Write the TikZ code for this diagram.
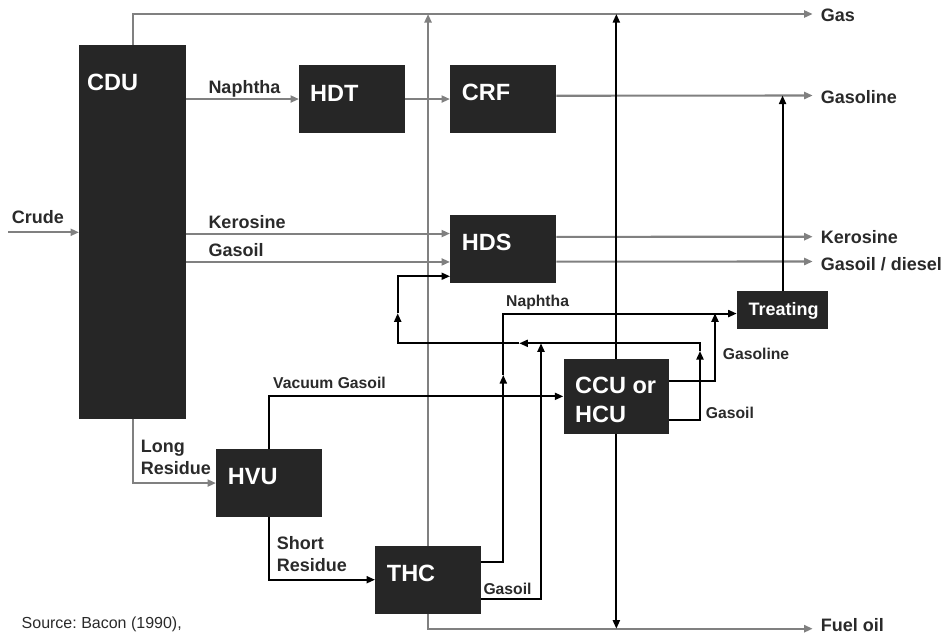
\documentclass[tikz,border=0pt]{standalone}
\usepackage{fontspec}
\setmainfont{Liberation Sans}
\usetikzlibrary{arrows.meta,calc}
\frenchspacing

\definecolor{boxfill}{HTML}{262626}
\definecolor{flowgray}{HTML}{808080}
\definecolor{labelink}{HTML}{2A2A2A}

\tikzset{
  unit/.style={fill=boxfill, draw=none, inner sep=0pt, anchor=north west},
  unitname/.style={text=white, inner sep=0pt, anchor=base west,
    font=\fontsize{23.5}{28}\selectfont\bfseries},
  treatname/.style={text=white, inner sep=0pt, anchor=base west,
    font=\fontsize{18}{21.6}\selectfont\bfseries},
  biglbl/.style={text=labelink, inner sep=0pt, anchor=base west,
    font=\fontsize{18}{21.6}\selectfont\bfseries},
  smalllbl/.style={text=labelink, inner sep=0pt, anchor=base west,
    font=\fontsize{15.7}{19}\selectfont\bfseries},
  srclbl/.style={text=labelink, inner sep=0pt, anchor=base east,
    font=\fontsize{16}{19}\selectfont},
  tip/.style={-{Triangle[length=8.5pt,width=7pt]}},
  gflow/.style={draw=flowgray, line width=2.1pt, tip},
  bflow/.style={draw=black, line width=1.9pt, tip},
}

\begin{document}
\begin{tikzpicture}[x=1pt, y=-1pt]
\useasboundingbox (0,0) rectangle (950,635);

% ---- process units ----
\node[unit, minimum width=107pt,  minimum height=373.3pt] (cdu)      at (79,45)      {};
\node[unit, minimum width=106pt,  minimum height=67.7pt]  (hdt)      at (299,65)     {};
\node[unit, minimum width=106pt,  minimum height=67.7pt]  (crf)      at (450,65)     {};
\node[unit, minimum width=106pt,  minimum height=67.7pt]  (hds)      at (450,215)    {};
\node[unit, minimum width=91.3pt, minimum height=37.7pt]  (treating) at (736.7,291)  {};
\node[unit, minimum width=105.7pt,minimum height=74.3pt]  (ccu)      at (563.3,359)  {};
\node[unit, minimum width=105.7pt,minimum height=67.7pt]  (hvu)      at (216,449)    {};
\node[unit, minimum width=105.7pt,minimum height=67.6pt]  (thc)      at (375,545.7)  {};

\node[unitname] (tcdu) at (87,90)       {CDU};
\node[unitname] (thdt) at (310,101)     {HDT};
\node[unitname] (tcrf) at (461.7,100.7) {CRF};
\node[unitname] (thds) at (461.7,250.7) {HDS};
\node[unitname] (tccu1) at (575,393.3)  {CCU or};
\node[unitname] (tccu2) at (575,422.3)  {HCU};
\node[unitname] (thvu) at (227.7,484)   {HVU};
\node[unitname] (tthc) at (386.7,581.7) {THC};
\node[treatname] (ttreat) at (748.3,315) {Treating};

% ---- free ends of product lines ----
\coordinate (crudeS) at (8,232.3);
\coordinate (gasT)   at (812.7,14);
\coordinate (gsT)    at (812.7,95.5);
\coordinate (keT)    at (812.7,236.7);
\coordinate (gdT)    at (812.7,261.5);
\coordinate (foT)    at (812.7,628.7);

% ---- straight-run (grey) streams ----
\draw[gflow] (crudeS) -- (crudeS -| cdu.west);
\draw[gflow] (cdu.north) |- (gasT);
\draw[gflow] (cdu.east |- hdt.west) -- (hdt.west);
\draw[gflow] (hdt.east) -- (crf.west);
\draw[gflow] ([yshift=3.3pt]crf.east) -- (gsT);
\draw[gflow] ([yshift=15.5pt]hds.west -| cdu.east) -- ([yshift=15.5pt]hds.west);
\draw[gflow] ([yshift=-12.9pt]hds.west -| cdu.east) -- ([yshift=-12.9pt]hds.west);
\draw[gflow] ([yshift=12.2pt]hds.east) -- (keT);
\draw[gflow] ([yshift=-12.6pt]hds.east) -- (gdT);
\draw[gflow] (cdu.south) |- (hvu.west);
\draw[gflow] (thc.north) -- (thc.north |- gasT);
\draw[gflow] (thc.south) |- (foT);

% ---- conversion (black) streams ----
\draw[bflow] (hvu.north) |- (ccu.west);
\draw[bflow] (hvu.south) |- (thc.west);
\draw[bflow] (ccu.north) -- (ccu.north |- gasT);
\draw[bflow] (ccu.south) -- (ccu.south |- foT);
\draw[bflow] (treating.north) -- (treating.north |- gsT);

% naphtha from THC to treating
\coordinate (nMid) at (503.3,375);
\draw[bflow] ([yshift=17.8pt]thc.east) -| (nMid);
\draw[bflow] (nMid) |- ([yshift=-3.5pt]treating.west);

% gasoil from THC joins the recycle header
\coordinate (tgJoin) at (541,343.3);
\draw[bflow] ([yshift=-19.5pt]thc.east) -| (tgJoin);

% gasoline from CCU/HCU joins the treating feed
\coordinate (cgJoin) at (715,313.3);
\draw[bflow] ([yshift=15.2pt]ccu.east) -| (cgJoin);

% gasoil from CCU/HCU back to HDS
\coordinate (lp1) at (700,351);
\coordinate (lp2) at (519.3,343.3);
\coordinate (lp3) at (397.7,313.3);
\draw[bflow] ([yshift=-23.2pt]ccu.east) -| (lp1);
\draw[bflow] (lp1) |- (lp2);
\draw[bflow] (lp2) -| (lp3);
\draw[bflow] (lp3) |- ([yshift=-27.2pt]hds.west);

% ---- stream labels ----
\node[biglbl] (lcrude) at (11.7,223)    {Crude};
\node[biglbl] (lnap)   at (208.3,93.3)  {Naphtha};
\node[biglbl] (lker)   at (208.3,228.7) {Kerosine};
\node[biglbl] (lgo)    at (208.3,256)   {Gasoil};
\node[biglbl] (llong1) at (140.7,452.7) {Long};
\node[biglbl] (llong2) at (140.7,474.3) {Residue};
\node[biglbl] (lshort1) at (276.7,549.3) {Short};
\node[biglbl] (lshort2) at (276.7,571.7) {Residue};
\node[biglbl] (ogas)   at (820.7,21.7)  {Gas};
\node[biglbl] (ogsl)   at (820.7,103.3) {Gasoline};
\node[biglbl] (oker)   at (820.7,243.3) {Kerosine};
\node[biglbl] (ogd)    at (820.7,270.7) {Gasoil / diesel};
\node[biglbl] (ofo)    at (820.7,631.7) {Fuel oil};

\node[smalllbl] (lvgo)  at (273,388)     {Vacuum Gasoil};
\node[smalllbl] (lnap2) at (506,306)     {Naphtha};
\node[smalllbl] (lgsl2) at (722.7,359.3) {Gasoline};
\node[smalllbl] (lgo2)  at (705.7,418.3) {Gasoil};
\node[smalllbl] (lgo3)  at (483.3,594)   {Gasoil};

\node[srclbl] (src) at (182,628.3) {Source: Bacon (1990),};
\end{tikzpicture}
\end{document}
